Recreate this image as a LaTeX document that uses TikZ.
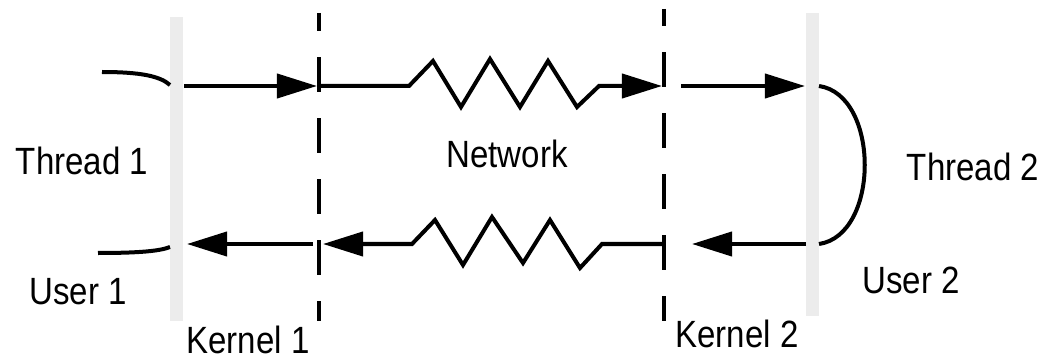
\documentclass[tikz,border=0pt]{standalone}
\usepackage{fontspec}
\setmainfont[FakeStretch=0.87]{Liberation Sans}
\usepackage{xcolor}
\usetikzlibrary{arrows.meta,positioning}
\definecolor{bargray}{HTML}{ECECEC}

\begin{document}
\begin{tikzpicture}[x=0.025cm, y=-0.025cm,
  line width=0.1cm,
  arr/.style={-{Triangle[length=1cm,width=0.6cm]}},
  cut/.style={dash pattern=on 0.875cm off 0.65cm},
  lbl/.style={anchor=base, inner sep=0pt, font=\fontsize{27}{31}\selectfont}]
\useasboundingbox (0,0) rectangle (1048,361);
% user/kernel boundaries
\fill[bargray] (170,17) rectangle (183,321);
\fill[bargray] (806,13) rectangle (819,316);
\coordinate (k1top) at (319,13);
\coordinate (k1bot) at (319,321);
\coordinate (k2top) at (664,9);
\coordinate (k2bot) at (664,321);
\draw[cut, dash phase=0.425cm] (k1top) -- (k1bot);
\draw[cut, dash phase=0.45cm] (k2top) -- (k2bot);
% labels
\node[lbl] (thread1) at (82,175) {Thread 1};
\node[lbl] (user1) at (78,304) {User 1};
\node[lbl] (kernel1) at (248,353) {Kernel 1};
\node[lbl] (network) at (507,167) {Network};
\node[lbl] (kernel2) at (737,347) {Kernel 2};
\node[lbl] (thread2) at (973,180) {Thread 2};
\node[lbl] (user2) at (911,293) {User 2};
% thread 1
\coordinate (t1in) at (102,72);
\coordinate (t1send) at (170,85);
\coordinate (t1out) at (98,253);
\coordinate (t1recv) at (170,247);
\draw (t1in) .. controls (140,72) and (160,76) .. (t1send);
\draw (t1out) .. controls (140,253) and (160,251) .. (t1recv);
% outgoing path
\coordinate (s1) at (184,86);
\coordinate (s2) at (317,86);
\coordinate (s3) at (320,86);
\coordinate (s4) at (662,86);
\coordinate (s5) at (681,86);
\coordinate (s6) at (805,86);
\draw[arr] (s1) -- (s2);
\draw[arr] (s3) -- (409,86) -- (433,61) -- (461,107) -- (490,59) -- (520,107)
  -- (548,61) -- (577,107) -- (599,86) -- (s4);
\draw[arr] (s5) -- (s6);
% thread 2
\coordinate (t2recv) at (819,86);
\coordinate (t2send) at (819,244);
\draw (t2recv) .. controls (880,95) and (880,235) .. (t2send);
% return path
\coordinate (r1) at (806,244);
\coordinate (r2) at (692,244);
\coordinate (r3) at (663,244);
\coordinate (r4) at (323,244);
\coordinate (r5) at (313,244);
\coordinate (r6) at (187,244);
\draw[arr] (r1) -- (r2);
\draw[arr] (r3) -- (602,244) -- (580,268) -- (550,220) -- (523,263) -- (492,217)
  -- (463,265) -- (435,220) -- (412,244) -- (r4);
\draw[arr] (r5) -- (r6);
\end{tikzpicture}
\end{document}
